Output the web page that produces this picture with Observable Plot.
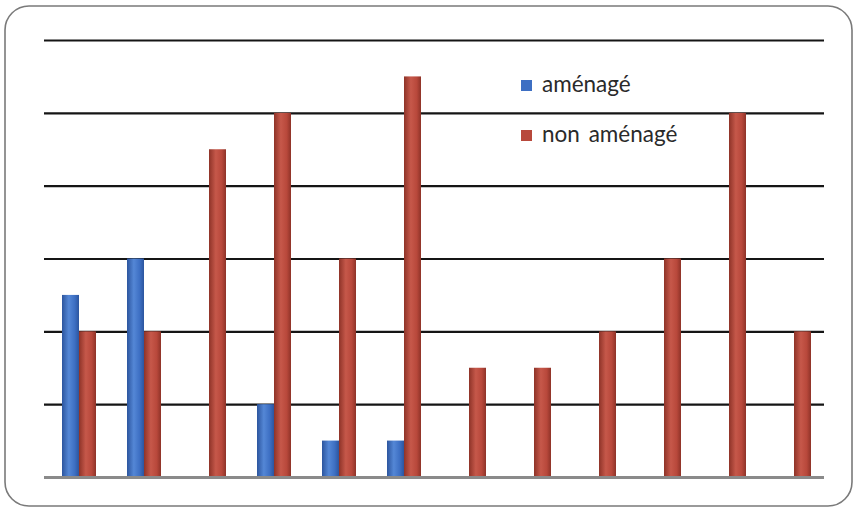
<!DOCTYPE html>
<html>
<head>
<meta charset="utf-8">
<script src="https://cdn.jsdelivr.net/npm/d3@7"></script>
<script src="https://cdn.jsdelivr.net/npm/@observablehq/plot@0.6"></script>
<style>
  body { margin: 0; background: #fff; }
  #chart { position: relative; width: 857px; height: 509px; }
</style>
</head>
<body>
<div id="chart"></div>
<script>
// ---- data ----
const categories = ["1", "2", "3", "4", "5", "6", "7", "8", "9", "10", "11", "12"];
const series = ["aménagé", "non aménagé"];
const amenage    = [2.5, 3, 0, 1, 0.5, 0.5, 0, 0, 0, 0, 0, 0];
const nonAmenage = [2, 2, 4.5, 5, 3, 5.5, 1.5, 1.5, 2, 3, 5, 2];
const gridValues = [1, 2, 3, 4, 5, 6];
const colors = ["#3d6fc3", "#b8483b"];

const rows = categories.flatMap((c, i) => [
  { cat: c, serie: series[0], value: amenage[i] },
  { cat: c, serie: series[1], value: nonAmenage[i] }
]).filter(d => d.value > 0);

const plot = Plot.plot({
  width: 857,
  height: 509,
  marginLeft: 42,
  marginRight: 31,
  marginTop: 40,
  marginBottom: 32,
  fx: { domain: categories, padding: 0, axis: null },
  x: { domain: series, axis: null, paddingInner: 0, paddingOuter: 0.815 },
  y: { domain: [0, 6], axis: null },
  marks: [
    Plot.ruleY(gridValues, { stroke: "#151515", strokeWidth: 2.2 }),
    Plot.barY(rows.filter(d => d.serie === series[0]), { fx: "cat", x: "serie", y: "value", fill: "url(#gBlue)", dx: 2 }),
    Plot.barY(rows.filter(d => d.serie === series[1]), { fx: "cat", x: "serie", y: "value", fill: "url(#gRed)", dx: 2 }),
    Plot.ruleY([0], { stroke: "#8a8a8a", strokeWidth: 3 })
  ]
});

const svg = d3.select(plot);
const defs = svg.insert("defs", ":first-child");
function grad(id, edge, mid, light) {
  const g = defs.append("linearGradient").attr("id", id).attr("x1", 0).attr("x2", 1).attr("y1", 0).attr("y2", 0);
  g.append("stop").attr("offset", "0%").attr("stop-color", edge);
  g.append("stop").attr("offset", "40%").attr("stop-color", light);
  g.append("stop").attr("offset", "75%").attr("stop-color", mid);
  g.append("stop").attr("offset", "100%").attr("stop-color", edge);
}
grad("gBlue", "#2c559e", colors[0], "#5487d6");
grad("gRed", "#8e3328", colors[1], "#c6584a");

// rounded frame
svg.append("rect")
  .attr("x", 5).attr("y", 6).attr("width", 847).attr("height", 500)
  .attr("rx", 24).attr("ry", 24)
  .attr("fill", "none").attr("stroke", "#7a7a7a").attr("stroke-width", 1.6);

// legend
const lg = svg.append("g")
  .attr("text-anchor", "start")
  .style("font-family", "Lato, 'Open Sans', sans-serif");
series.forEach((s, i) => {
  const y0 = 80 + i * 50;
  lg.append("rect").attr("x", 521).attr("y", y0).attr("width", 11).attr("height", 11).attr("fill", colors[i]);
  lg.append("text").attr("x", 542).attr("y", y0 + 12)
    .attr("font-size", 22.5).attr("fill", "#2a2a2a")
    .style("word-spacing", "3px")
    .text(s);
});

document.getElementById("chart").appendChild(plot);
</script>
</body>
</html>
